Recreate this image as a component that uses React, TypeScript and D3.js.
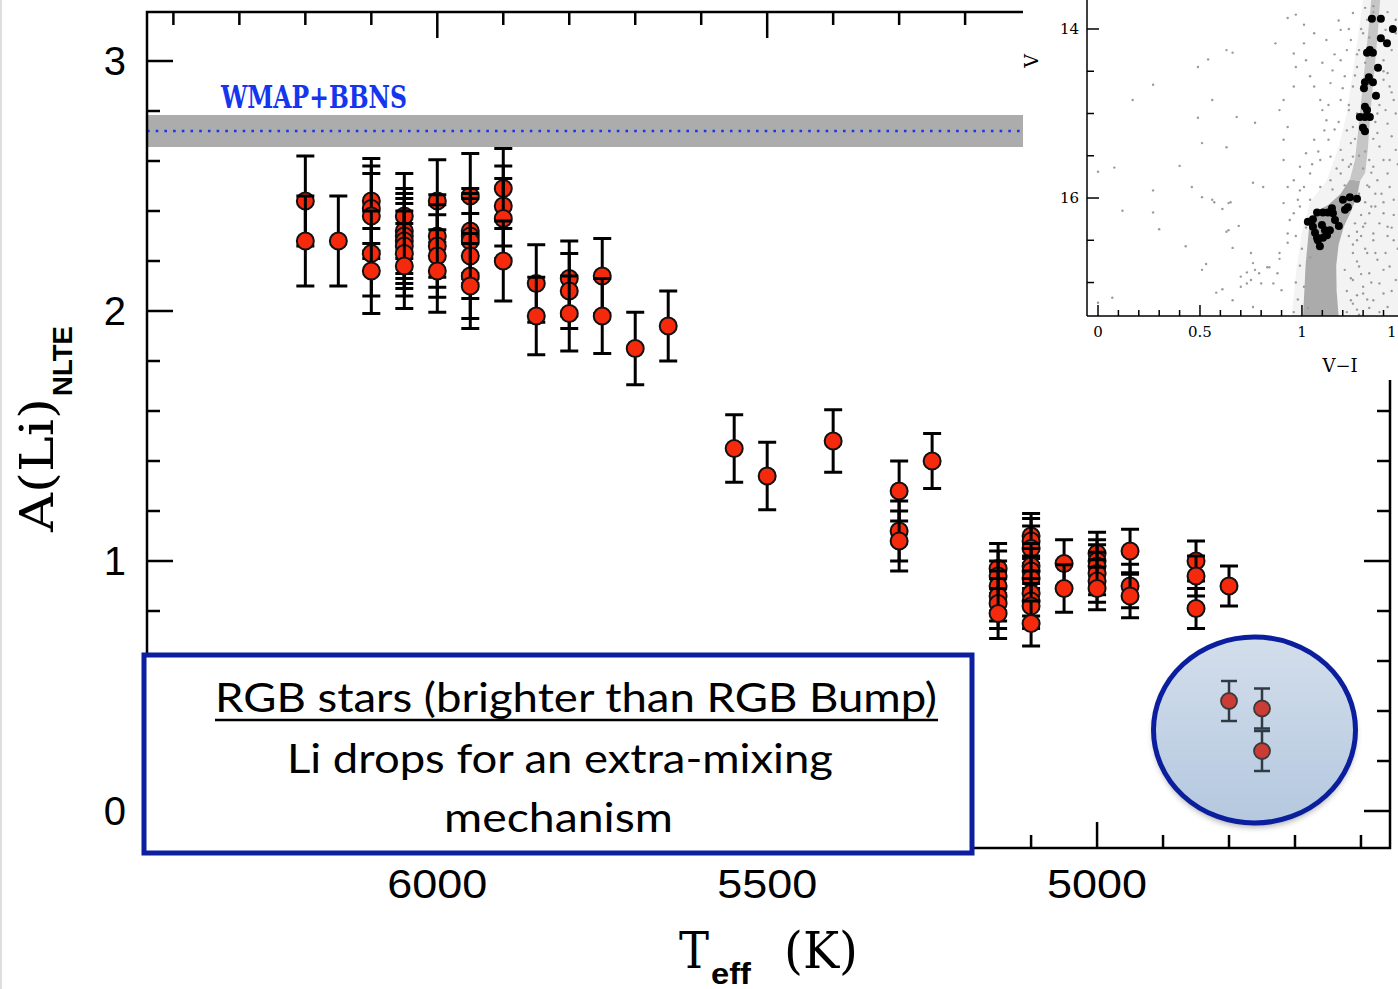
import React from "react";
import * as d3 from "d3";

// Li abundance along the RGB: stars grouped by their Teff step
const starTeff = [6200, 6150, 6100, 6050, 6000, 5950, 5900, 5850, 5800, 5750, 5700, 5650,
  5550, 5500, 5400, 5300, 5250, 5150, 5100, 5050, 5000, 4950, 4850, 4800];
const starALi = [
  [2.44, 2.28],
  [2.28],
  [2.44, 2.41, 2.38, 2.23, 2.16],
  [2.38, 2.32, 2.30, 2.28, 2.26, 2.23, 2.18],
  [2.44, 2.30, 2.26, 2.22, 2.16],
  [2.46, 2.32, 2.30, 2.28, 2.22, 2.14, 2.10],
  [2.49, 2.42, 2.37, 2.20],
  [2.11, 1.98],
  [2.13, 2.08, 1.99],
  [2.14, 1.98],
  [1.85],
  [1.94],
  [1.45],
  [1.34],
  [1.48],
  [1.28, 1.12, 1.08],
  [1.40],
  [0.97, 0.94, 0.90, 0.86, 0.83, 0.79],
  [1.10, 1.08, 1.05, 0.98, 0.96, 0.93, 0.87, 0.84, 0.82, 0.75],
  [0.99, 0.89],
  [1.03, 1.00, 0.98, 0.95, 0.92, 0.89],
  [1.04, 0.90, 0.86],
  [1.00, 0.94, 0.81],
  [0.90],
];
const starErr = [0.18, 0.18, 0.17, 0.17, 0.165, 0.17, 0.16, 0.155, 0.15, 0.15, 0.145, 0.14,
  0.135, 0.135, 0.125, 0.12, 0.11, 0.10, 0.09, 0.095, 0.085, 0.087, 0.08, 0.08];

// the highlighted stars (brighter than the bump)
const circledTeff = [4800, 4750];
const circledALi = [[0.44], [0.41, 0.24]];
const circledErr = [0.08, 0.08];

// WMAP+BBN plateau
const wmapALi = 2.72;
const wmapLow = 2.656;
const wmapHigh = 2.784;

const teffMajor = [6000, 5500, 5000];
const aliMajor = [0, 1, 2, 3];

// inset CMD (V-I, V)
const insetViTicks = [0, 0.5, 1, 1.5];
const insetViLabels = ["0", "0.5", "1", "1"]; // last one is cut by the frame edge
const insetVLabels = [14, 16];

const cmdTargets: [number, number][] = [
  [1.343, 13.88], [1.387, 13.88], [1.446, 14.0], [1.387, 14.11], [1.417, 14.17], [1.333, 14.25],
  [1.348, 14.28], [1.319, 14.28], [1.373, 14.46], [1.328, 14.57], [1.309, 14.63], [1.348, 14.63],
  [1.304, 14.7], [1.363, 14.79], [1.309, 14.92], [1.319, 14.96], [1.284, 15.04], [1.309, 15.04],
  [1.333, 15.04], [1.299, 15.17], [1.309, 15.21],
  [1.235, 15.99], [1.27, 16.01], [1.201, 16.02], [1.225, 16.11], [1.211, 16.14], [1.147, 16.12],
  [1.103, 16.17], [1.074, 16.17], [1.152, 16.18], [1.162, 16.26], [1.181, 16.33], [1.029, 16.28],
  [1.054, 16.34], [1.098, 16.32], [1.113, 16.38], [1.137, 16.38], [1.064, 16.41], [1.123, 16.44],
  [1.078, 16.5], [1.088, 16.57], [1.074, 16.47], [1.103, 16.47], [1.054, 16.25], [1.127, 16.17],
];

const cmdField: [number, number][] = [
  [0.63, 14.25], [0.66, 14.28], [0.54, 14.36], [0.49, 14.45], [0.87, 14.17], [0.97, 13.83],
  [1.01, 13.95], [0.93, 13.87], [0.27, 14.66], [0.17, 14.84], [0.49, 15.05], [0.56, 14.84],
  [0.68, 15.04], [0.77, 15.11], [0.63, 15.4], [0.51, 15.35], [0.4, 15.62], [0.08, 15.64],
  [0.0, 15.69], [0.27, 15.91], [0.46, 15.87], [0.51, 15.99], [0.56, 16.02], [0.65, 16.05],
  [0.12, 16.15], [0.27, 16.17], [0.3, 16.37], [0.43, 16.57], [0.64, 16.38], [0.66, 16.59],
  [0.75, 16.65], [0.76, 16.77], [0.73, 17.01], [0.7, 17.05], [0.79, 16.89], [0.84, 16.82],
  [0.86, 17.01], [0.9, 17.09], [0.76, 17.29], [0.66, 17.21], [0.0, 17.24], [0.07, 17.18],
  [0.57, 16.05], [0.61, 16.13], [0.64, 16.06], [0.63, 16.4], [0.69, 16.33], [0.53, 16.78],
  [0.51, 16.85], [0.58, 17.12], [0.61, 17.08], [0.7, 16.93], [0.73, 16.88], [0.75, 16.97],
  [0.77, 16.85], [0.8, 17.01], [0.83, 16.82], [0.89, 16.72], [0.93, 16.53], [0.91, 16.06],
  [0.94, 16.26], [0.98, 16.02], [0.99, 15.91], [0.81, 15.87], [0.76, 15.82],
  [0.91, 14.84], [0.89, 14.96], [0.93, 15.16], [0.91, 15.31], [0.96, 14.68], [0.97, 14.45],
  [1.02, 14.37], [1.04, 14.56], [1.06, 14.68], [1.09, 14.84], [1.1, 14.96], [1.12, 15.08],
  [1.14, 14.64], [1.15, 14.49], [1.19, 14.37], [1.22, 14.25], [1.24, 14.13], [1.21, 14.56],
  [1.19, 14.84], [1.16, 15.19], [1.13, 15.31], [1.06, 15.31], [1.02, 15.47], [0.99, 15.63],
  [0.96, 15.79], [0.93, 15.87], [0.91, 15.55], [1.04, 15.71], [1.09, 15.55], [1.14, 15.51],
  [1.19, 15.43], [1.24, 15.35], [1.25, 15.16], [1.23, 14.96], [1.25, 14.68], [1.27, 14.45],
  [1.28, 14.25], [1.3, 14.05], [1.32, 13.89], [1.35, 13.73], [1.25, 13.81], [1.19, 14.01],
  [1.12, 14.13], [1.06, 14.05], [1.01, 14.17], [0.96, 14.29], [1.09, 15.87], [1.14, 15.79],
  [1.19, 15.71], [1.23, 15.63], [1.25, 15.51], [1.04, 16.02], [0.99, 16.1], [0.96, 16.18],
  [0.93, 16.42], [0.89, 16.65], [0.88, 16.89], [1.01, 15.87],
  [1.4, 14.37], [1.42, 14.52], [1.43, 14.68], [1.45, 14.84], [1.41, 14.96], [1.42, 15.12],
  [1.44, 15.27], [1.46, 15.43], [1.4, 15.55], [1.42, 15.71], [1.43, 15.87], [1.45, 16.02],
  [1.4, 16.18], [1.42, 16.34], [1.45, 16.5], [1.41, 16.65], [1.43, 16.81], [1.46, 16.97],
  [1.4, 17.13], [1.42, 17.29], [1.44, 14.25], [1.46, 14.05], [1.46, 13.89], [1.41, 14.01],
  [1.37, 15.23], [1.38, 15.39], [1.35, 15.63], [1.37, 15.79], [1.33, 15.87], [1.33, 16.18],
  [1.3, 16.34], [1.35, 16.42], [1.27, 16.5], [1.25, 16.65], [1.32, 16.65], [1.37, 16.73],
  [1.28, 16.81], [1.33, 16.89], [1.25, 16.97], [1.38, 17.01], [1.3, 17.13], [1.35, 17.21],
  [1.24, 17.21], [1.27, 17.32],
  [0.96, 17.35], [0.98, 17.2], [0.97, 17.0], [0.99, 16.8], [1.0, 16.6], [0.97, 16.45],
  [1.22, 17.35], [1.25, 17.25], [1.22, 17.1], [1.24, 16.95], [1.21, 16.85], [1.27, 16.75],
  [1.25, 16.55], [1.29, 16.45], [1.31, 16.3], [1.26, 16.3], [1.3, 17.05], [1.33, 17.3],
  [1.28, 17.38], [1.35, 16.5], [1.38, 16.3], [1.36, 16.1], [1.4, 16.85], [1.44, 17.1],
  [1.47, 16.6], [1.45, 16.2], [1.39, 15.95], [1.34, 15.7], [1.31, 15.45], [1.37, 15.0],
  [1.35, 14.8], [1.4, 14.6], [1.44, 14.75], [1.46, 15.0], [1.47, 15.6], [1.43, 15.55],
  [1.28, 15.95], [1.31, 16.05], [1.02, 16.35], [1.04, 16.7], [1.01, 17.05], [1.03, 17.3],
  [1.28, 15.5], [1.24, 15.6], [1.33, 15.55], [1.26, 15.3], [1.22, 15.2], [1.35, 15.3],
  [1.27, 15.0], [1.23, 14.9], [1.36, 15.1], [1.29, 14.7], [1.26, 14.55], [1.38, 14.9],
  [1.31, 14.4], [1.27, 14.3], [1.4, 14.5], [1.33, 14.1], [1.29, 14.0], [1.41, 14.2],
  [1.35, 13.8], [1.31, 13.75], [1.42, 13.8], [1.2, 15.55], [1.17, 15.65], [1.15, 15.9],
  [1.21, 15.85], [1.3, 15.65], [1.32, 15.85], [1.36, 15.95], [1.4, 16.05], [1.34, 16.1],
  [1.29, 16.2], [1.27, 16.4], [1.23, 16.45], [1.31, 16.6], [1.36, 16.65], [1.29, 16.9],
  [1.34, 17.0], [1.27, 17.15], [1.32, 17.2], [1.38, 17.35], [1.42, 16.45], [1.44, 16.35],
  [1.18, 15.1], [1.2, 14.7], [1.13, 14.9], [1.11, 15.2], [1.08, 15.45], [1.05, 15.6],
  [1.16, 14.3], [1.23, 14.0], [1.1, 14.4], [1.18, 13.9],
];

// crowded parts of the CMD, drawn as filled outlines
const cmdHalo: [number, number][] = [
  [0.95, 17.4], [0.97, 16.9], [1.0, 16.4], [1.04, 16.05], [1.12, 15.8], [1.18, 15.4],
  [1.22, 15.0], [1.25, 14.5], [1.28, 14.0], [1.3, 13.65], [1.48, 13.65], [1.48, 17.4],
];
const cmdCore: [number, number][] = [
  [1.005, 17.4], [1.012, 17.09], [1.018, 16.79], [1.027, 16.56], [1.037, 16.3], [1.07, 16.16],
  [1.13, 16.08], [1.19, 15.95], [1.235, 15.78], [1.285, 15.8], [1.27, 15.98], [1.24, 16.16],
  [1.205, 16.34], [1.18, 16.55], [1.168, 16.8], [1.17, 17.1], [1.18, 17.4],
];
const cmdRgb: [number, number][] = [
  [1.235, 15.78], [1.26, 15.55], [1.276, 15.2], [1.291, 14.84], [1.306, 14.49], [1.321, 14.13],
  [1.335, 13.78], [1.342, 13.6], [1.385, 13.6], [1.373, 14.01], [1.36, 14.37], [1.346, 14.72],
  [1.333, 15.08], [1.323, 15.43], [1.31, 15.7], [1.285, 15.8],
];

const serif = "'DejaVu Serif', serif";
const sans = "'Liberation Sans', Arial, sans-serif";

function ErrPoint({ cx, cy, lo, hi, r, fill, stroke, bar }: any) {
  return (
    <g>
      <line x1={cx} x2={cx} y1={lo} y2={hi} stroke={bar} strokeWidth={3} />
      <line x1={cx - 9} x2={cx + 9} y1={lo} y2={lo} stroke={bar} strokeWidth={3} />
      <line x1={cx - 9} x2={cx + 9} y1={hi} y2={hi} stroke={bar} strokeWidth={3} />
      <circle cx={cx} cy={cy} r={r} fill={fill} stroke={stroke} strokeWidth={2} />
    </g>
  );
}

export default function App() {
  const x = d3.scaleLinear().domain([6440, 4556]).range([147, 1390]);
  const y = d3.scaleLinear().domain([-0.148, 3.196]).range([848, 12]);
  const ix = d3.scaleLinear().domain([-0.054, 1.471]).range([1087, 1398]);
  const iy = d3.scaleLinear().domain([13.657, 17.396]).range([0, 316]);

  const minorT = d3.range(4600, 6401, 100);
  const minorA = d3.range(0, 16).map((i) => i * 0.2);
  const insetMinorX = d3.range(0, 15).map((i) => i * 0.1);
  const insetMinorY = d3.range(0, 7).map((i) => 14 + i * 0.5);

  const poly = d3.line<[number, number]>().x((d) => ix(d[0])).y((d) => iy(d[1]));
  const [x0, x1] = x.range();
  const [yb, yt] = y.range();

  const stars: any[] = [];
  starTeff.forEach((t, i) => starALi[i].forEach((a) => stars.push({ t, a, e: starErr[i] })));
  const circled: any[] = [];
  circledTeff.forEach((t, i) => circledALi[i].forEach((a) => circled.push({ t, a, e: circledErr[i] })));

  return (
    <svg width={1398} height={989} style={{ position: "absolute", left: 0, top: 0, background: "#fff" }}>
      <defs>
        <linearGradient id="circleFill" x1="0" y1="0" x2="0" y2="1">
          <stop offset="0" stopColor="#d3deeb" />
          <stop offset="1" stopColor="#b4c8df" />
        </linearGradient>
        <filter id="circleShadow" x="-20%" y="-20%" width="140%" height="150%">
          <feDropShadow dx="0" dy="4" stdDeviation="3" floodOpacity="0.35" />
        </filter>
        <clipPath id="insetClip">
          <rect x={ix.range()[0]} y={0} width={ix.range()[1] - ix.range()[0]} height={iy.range()[1]} />
        </clipPath>
      </defs>
      <rect x={0} y={0} width={1398} height={989} fill="#fff" />
      <line x1={1} x2={1} y1={0} y2={989} stroke="#dedede" strokeWidth={2} />

      {/* WMAP+BBN band */}
      <rect x={x0} y={y(wmapHigh)} width={1398 - x0} height={y(wmapLow) - y(wmapHigh)} fill="#acacac" />
      <line x1={x0} x2={1398} y1={y(wmapALi)} y2={y(wmapALi)} stroke="#1436ee" strokeWidth={2.6}
        strokeDasharray="2.6 6.1" />
      <text x={221} y={108} fill="#1536ee" fontFamily={serif} fontWeight="bold" fontSize={31}
        textLength={186} lengthAdjust="spacingAndGlyphs">WMAP+BBNS</text>

      {/* frame */}
      <g stroke="#000" strokeWidth={2.5} fill="none">
        <rect x={x0} y={yt} width={x1 - x0} height={yb - yt} />
        {minorT.map((t) => {
          const len = t % 500 === 0 ? 26 : 13;
          return (
            <g key={"t" + t}>
              <line x1={x(t)} x2={x(t)} y1={yt} y2={yt + len} />
              <line x1={x(t)} x2={x(t)} y1={yb} y2={yb - len} />
            </g>
          );
        })}
        {minorA.map((a) => {
          const len = Math.abs(a - Math.round(a)) < 1e-6 ? 26 : 13;
          return (
            <g key={"a" + a}>
              <line x1={x0} x2={x0 + len} y1={y(a)} y2={y(a)} />
              <line x1={x1} x2={x1 - len} y1={y(a)} y2={y(a)} />
            </g>
          );
        })}
      </g>

      {aliMajor.map((a) => (
        <text key={a} x={126} y={y(a) + 14} textAnchor="end" fontFamily={sans} fontSize={40}>{a}</text>
      ))}
      {teffMajor.map((t) => (
        <text key={t} x={x(t)} y={898} textAnchor="middle" fontFamily={sans} fontSize={40}
          textLength={100} lengthAdjust="spacingAndGlyphs">{t}</text>
      ))}

      {/* stars */}
      {stars.map((s, i) => (
        <ErrPoint key={i} cx={x(s.t)} cy={y(s.a)} lo={y(s.a - s.e)} hi={y(s.a + s.e)} r={8.5}
          fill="#f52a0c" stroke="#111" bar="#000" />
      ))}

      {/* inset CMD */}
      <rect x={1023} y={0} width={375} height={380} fill="#fff" />
      <g clipPath="url(#insetClip)">
        <path d={poly(cmdHalo) + "Z"} fill="#f3f3f3" />
        <path d={poly(cmdCore) + "Z"} fill="#ababab" />
        <path d={poly(cmdRgb) + "Z"} fill="#c6c6c6" />
        {cmdField.map((d, i) => (
          <circle key={i} cx={ix(d[0])} cy={iy(d[1])} r={1.2} fill="#9a9a9a" />
        ))}
        {cmdTargets.map((d, i) => (
          <circle key={i} cx={ix(d[0])} cy={iy(d[1])} r={4} fill="#000" />
        ))}
      </g>
      <g stroke="#000" strokeWidth={1.5}>
        <line x1={ix.range()[0]} x2={ix.range()[0]} y1={0} y2={iy.range()[1]} />
        <line x1={ix.range()[0]} x2={1398} y1={iy.range()[1]} y2={iy.range()[1]} />
        {insetMinorX.map((v) => (
          <line key={v} x1={ix(v)} x2={ix(v)} y1={316} y2={316 - (Math.round(v * 10) % 5 === 0 ? 11 : 6)} />
        ))}
        {insetMinorY.map((v) => (
          <line key={v} x1={1087} x2={1087 + (v % 2 === 0 ? 12 : 7)} y1={iy(v)} y2={iy(v)} />
        ))}
      </g>
      {insetViTicks.map((v, i) => (
        <text key={i} x={i === 3 ? 1387 : ix(v)} y={337} textAnchor={i === 3 ? "start" : "middle"}
          fontFamily={serif} fontSize={15}>{insetViLabels[i]}</text>
      ))}
      {insetVLabels.map((v) => (
        <text key={v} x={1079} y={iy(v) + 5} textAnchor="end" fontFamily={serif} fontSize={15}>{v}</text>
      ))}
      <text x={1340} y={372} textAnchor="middle" fontFamily={serif} fontSize={18}>V−I</text>
      <text transform="translate(1038,61) rotate(-90)" textAnchor="middle" fontFamily={serif} fontSize={19}>V</text>

      {/* circled stars */}
      <ellipse cx={1254.5} cy={730} rx={101} ry={93} fill="url(#circleFill)" filter="url(#circleShadow)" />
      {circled.map((s, i) => (
        <g key={i}>
          <line x1={x(s.t)} x2={x(s.t)} y1={y(s.a - s.e)} y2={y(s.a + s.e)} stroke="#2f3a45" strokeWidth={2.5} />
          <line x1={x(s.t) - 8} x2={x(s.t) + 8} y1={y(s.a - s.e)} y2={y(s.a - s.e)} stroke="#2f3a45" strokeWidth={2.5} />
          <line x1={x(s.t) - 8} x2={x(s.t) + 8} y1={y(s.a + s.e)} y2={y(s.a + s.e)} stroke="#2f3a45" strokeWidth={2.5} />
          <circle cx={x(s.t)} cy={y(s.a)} r={8} fill="#cc3c36" stroke="#3a3a3a" strokeWidth={1.8} />
        </g>
      ))}
      <ellipse cx={1254.5} cy={730} rx={101} ry={93} fill="none" stroke="#0b1e9e" strokeWidth={5} />

      {/* annotation box */}
      <rect x={144} y={655} width={828} height={198} fill="#fff" stroke="#0b1fa0" strokeWidth={5} />
      <g fontFamily="Lato, 'Open Sans', sans-serif" fontSize={40} fill="#000">
        <text x={215} y={712} textLength={722} lengthAdjust="spacingAndGlyphs">RGB stars (brighter than RGB Bump)</text>
        <line x1={215} x2={938} y1={720} y2={720} stroke="#000" strokeWidth={2.5} />
        <text x={287} y={773} textLength={546} lengthAdjust="spacingAndGlyphs">Li drops for an extra-mixing</text>
        <text x={444} y={832} textLength={229} lengthAdjust="spacingAndGlyphs">mechanism</text>
      </g>

      {/* axis titles */}
      <g transform="translate(53,532) rotate(-90)">
        <text x={0} y={0} fontFamily={serif} fontSize={46} textLength={134} lengthAdjust="spacingAndGlyphs">A(Li)</text>
        <text x={136} y={19} fontFamily={sans} fontWeight="bold" fontSize={28} textLength={70}
          lengthAdjust="spacingAndGlyphs">NLTE</text>
      </g>
      <text x={679} y={968} fontFamily={serif} fontSize={50} textLength={30} lengthAdjust="spacingAndGlyphs">T</text>
      <text x={711} y={984} fontFamily={sans} fontWeight="bold" fontSize={30} textLength={40}
        lengthAdjust="spacingAndGlyphs">eff</text>
      <text x={784} y={968} fontFamily={serif} fontSize={50} textLength={74} lengthAdjust="spacingAndGlyphs">(K)</text>
    </svg>
  );
}
